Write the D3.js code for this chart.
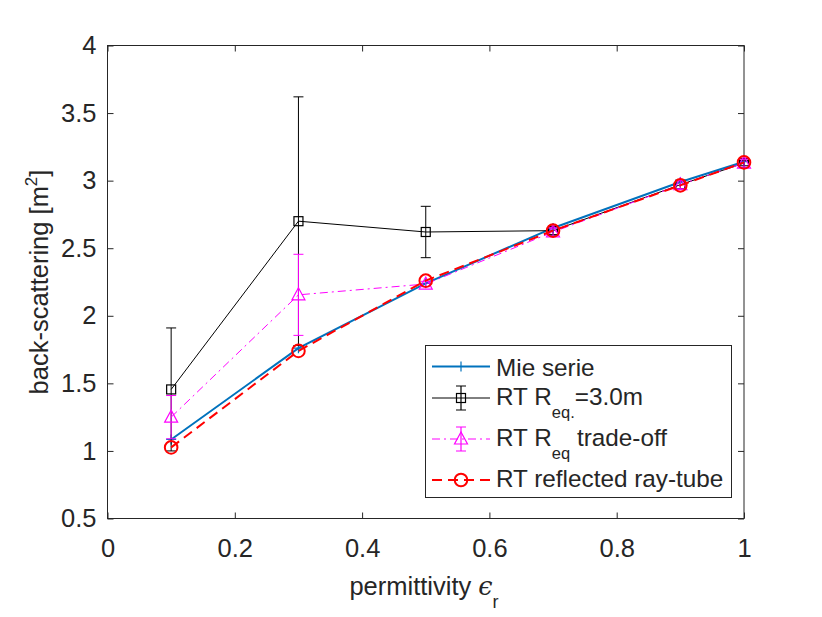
<!DOCTYPE html>
<html><head><meta charset="utf-8">
<script src="https://cdn.jsdelivr.net/npm/d3@7"></script>
<style>body{margin:0;background:#fff}svg{display:block}text{font-family:"Liberation Sans",Arial,sans-serif;fill:#262626}</style>
</head><body><svg id="c" width="822" height="617"></svg>
<script>
const xVals = [0.1, 0.3, 0.5, 0.7, 0.9, 1.0];
const mieVals = [1.085, 1.76, 2.24, 2.65, 2.99, 3.14];
const reqVals = [1.455, 2.70, 2.62, 2.63, 2.97, 3.13];
const reqErr = [0.455, 0.92, 0.19, 0.03, 0.03, 0.02];
const tradeVals = [1.25, 2.155, 2.235, 2.62, 2.97, 3.13];
const tradeErr = [0.16, 0.30, 0.02, 0.03, 0.03, 0.03];
const rayVals = [1.026, 1.74, 2.26, 2.63, 2.965, 3.135];
const xTicks = [0, 0.2, 0.4, 0.6, 0.8, 1];
const yTicks = [0.5, 1, 1.5, 2, 2.5, 3, 3.5, 4];

const svg = d3.select("#c");
const L = 107.5, R = 744, T = 45.5, B = 518.5;
const x = d3.scaleLinear().domain([0, 1]).range([L, R]);
const y = d3.scaleLinear().domain([0.5, 4]).range([B, T]);
const FS = 25.5;

const ax = svg.append("g").attr("transform", `translate(0,${B})`)
  .call(d3.axisBottom(x).tickValues(xTicks).tickFormat(d3.format("")).tickSizeInner(-6).tickSizeOuter(0).tickPadding(20));
const ay = svg.append("g").attr("transform", `translate(${L},0)`)
  .call(d3.axisLeft(y).tickValues(yTicks).tickFormat(d3.format("")).tickSizeInner(-6).tickSizeOuter(0).tickPadding(11));
const axT = svg.append("g").attr("transform", `translate(0,${T})`)
  .call(d3.axisTop(x).tickValues(xTicks).tickFormat("").tickSizeInner(-6).tickSizeOuter(0));
const ayR = svg.append("g").attr("transform", `translate(${R},0)`)
  .call(d3.axisRight(y).tickValues(yTicks).tickFormat("").tickSizeInner(-6).tickSizeOuter(0));
[ax, ay, axT, ayR].forEach(g => {
  g.select(".domain").remove();
  g.selectAll("line").attr("stroke", "#262626").attr("stroke-width", 1);
  g.selectAll("text").attr("font-size", FS).attr("fill", "#262626").attr("font-family", '"Liberation Sans",Arial,sans-serif');
});
svg.append("rect").attr("x", L).attr("y", T).attr("width", R - L).attr("height", B - T)
  .attr("fill", "none").attr("stroke", "#262626").attr("stroke-width", 1);

// labels
const yl = svg.append("text").attr("transform", `translate(48,${(T + B) / 2}) rotate(-90)`)
  .attr("text-anchor", "middle").attr("font-size", FS);
yl.append("tspan").text("back-scattering [m");
yl.append("tspan").attr("font-size", 17).attr("dy", -11).text("2");
yl.append("tspan").attr("dy", 11).text("]");
const xl = svg.append("text").attr("x", 424).attr("y", 595).attr("text-anchor", "middle").attr("font-size", FS);
xl.append("tspan").text("permittivity ");
xl.append("tspan").attr("font-family", '"DejaVu Serif",serif').attr("font-style", "italic").text("ϵ");
xl.append("tspan").attr("font-size", 18).attr("dy", 13).text("r");

const pts = vals => xVals.map((v, i) => [x(v), y(vals[i])]);
const line = d3.line();

function errBars(vals, errs, color) {
  const g = svg.append("g").attr("stroke", color).attr("stroke-width", 1).attr("fill", "none");
  xVals.forEach((v, i) => {
    const cx = x(v), y1 = y(vals[i] + errs[i]), y2 = y(vals[i] - errs[i]);
    g.append("line").attr("x1", cx).attr("x2", cx).attr("y1", y1).attr("y2", y2);
    g.append("line").attr("x1", cx - 5).attr("x2", cx + 5).attr("y1", y1).attr("y2", y1);
    g.append("line").attr("x1", cx - 5).attr("x2", cx + 5).attr("y1", y2).attr("y2", y2);
  });
}
const mk = {
  plus: (g, cx, cy) => g.append("path").attr("d", `M${cx - 5},${cy}H${cx + 5}M${cx},${cy - 5}V${cy + 5}`),
  square: (g, cx, cy) => g.append("rect").attr("x", cx - 4.5).attr("y", cy - 4.5).attr("width", 9).attr("height", 9),
  tri: (g, cx, cy) => g.append("path").attr("d", `M${cx},${cy - 7}L${cx + 6.5},${cy + 5}L${cx - 6.5},${cy + 5}Z`),
  circle: (g, cx, cy) => g.append("circle").attr("cx", cx).attr("cy", cy).attr("r", 6.3)
};
function series(vals, color, width, dash, marker, mw) {
  svg.append("path").attr("d", line(pts(vals))).attr("fill", "none").attr("stroke", color)
    .attr("stroke-width", width).attr("stroke-dasharray", dash);
  const g = svg.append("g").attr("stroke", color).attr("stroke-width", mw).attr("fill", "none");
  pts(vals).forEach(p => mk[marker](g, p[0], p[1]));
}

series(mieVals, "#0072BD", 2, null, "plus", 1.2);
errBars(reqVals, reqErr, "#000");
series(reqVals, "#000", 1, null, "square", 1.2);
errBars(tradeVals, tradeErr, "#FF00FF");
series(tradeVals, "#FF00FF", 1, "8,4,2,4", "tri", 1.2);
series(rayVals, "#FF0000", 2, "10,6", "circle", 2);

// legend
const lg = svg.append("g");
lg.append("rect").attr("x", 425.5).attr("y", 345.5).attr("width", 306).attr("height", 152)
  .attr("fill", "#fff").attr("stroke", "#262626").attr("stroke-width", 1);
const items = [
  {c: "#0072BD", w: 2, d: null, m: "plus", mw: 1.2, eb: false, y: 366.5},
  {c: "#000", w: 1, d: null, m: "square", mw: 1.2, eb: true, y: 398},
  {c: "#FF00FF", w: 1, d: "8,4,2,4", m: "tri", mw: 1.2, eb: true, y: 439},
  {c: "#FF0000", w: 2, d: "10,6", m: "circle", mw: 2, eb: false, y: 480}
];
items.forEach(it => {
  lg.append("line").attr("x1", 432).attr("x2", 490).attr("y1", it.y).attr("y2", it.y)
    .attr("stroke", it.c).attr("stroke-width", it.w).attr("stroke-dasharray", it.d);
  const g = lg.append("g").attr("stroke", it.c).attr("stroke-width", it.mw).attr("fill", "none");
  if (it.eb) {
    g.append("path").attr("d", `M461,${it.y - 12}V${it.y + 12}M456,${it.y - 12}H466M456,${it.y + 12}H466`);
  }
  mk[it.m](g, 461, it.y);
});
const tx = 496, LFS = 24.3;
lg.append("text").attr("x", tx).attr("y", 375.5).attr("font-size", LFS).text("Mie serie");
const t2 = lg.append("text").attr("x", tx).attr("y", 405).attr("font-size", LFS);
t2.append("tspan").text("RT R");
t2.append("tspan").attr("font-size", 16.5).attr("dy", 13).text("eq.");
t2.append("tspan").attr("dy", -13).text("=3.0m");
const t3 = lg.append("text").attr("x", tx).attr("y", 446).attr("font-size", LFS);
t3.append("tspan").text("RT R");
t3.append("tspan").attr("font-size", 16.5).attr("dy", 13).text("eq");
t3.append("tspan").attr("dy", -13).text(" trade-off");
lg.append("text").attr("x", tx).attr("y", 487).attr("font-size", LFS).text("RT reflected ray-tube");
</script></body></html>
